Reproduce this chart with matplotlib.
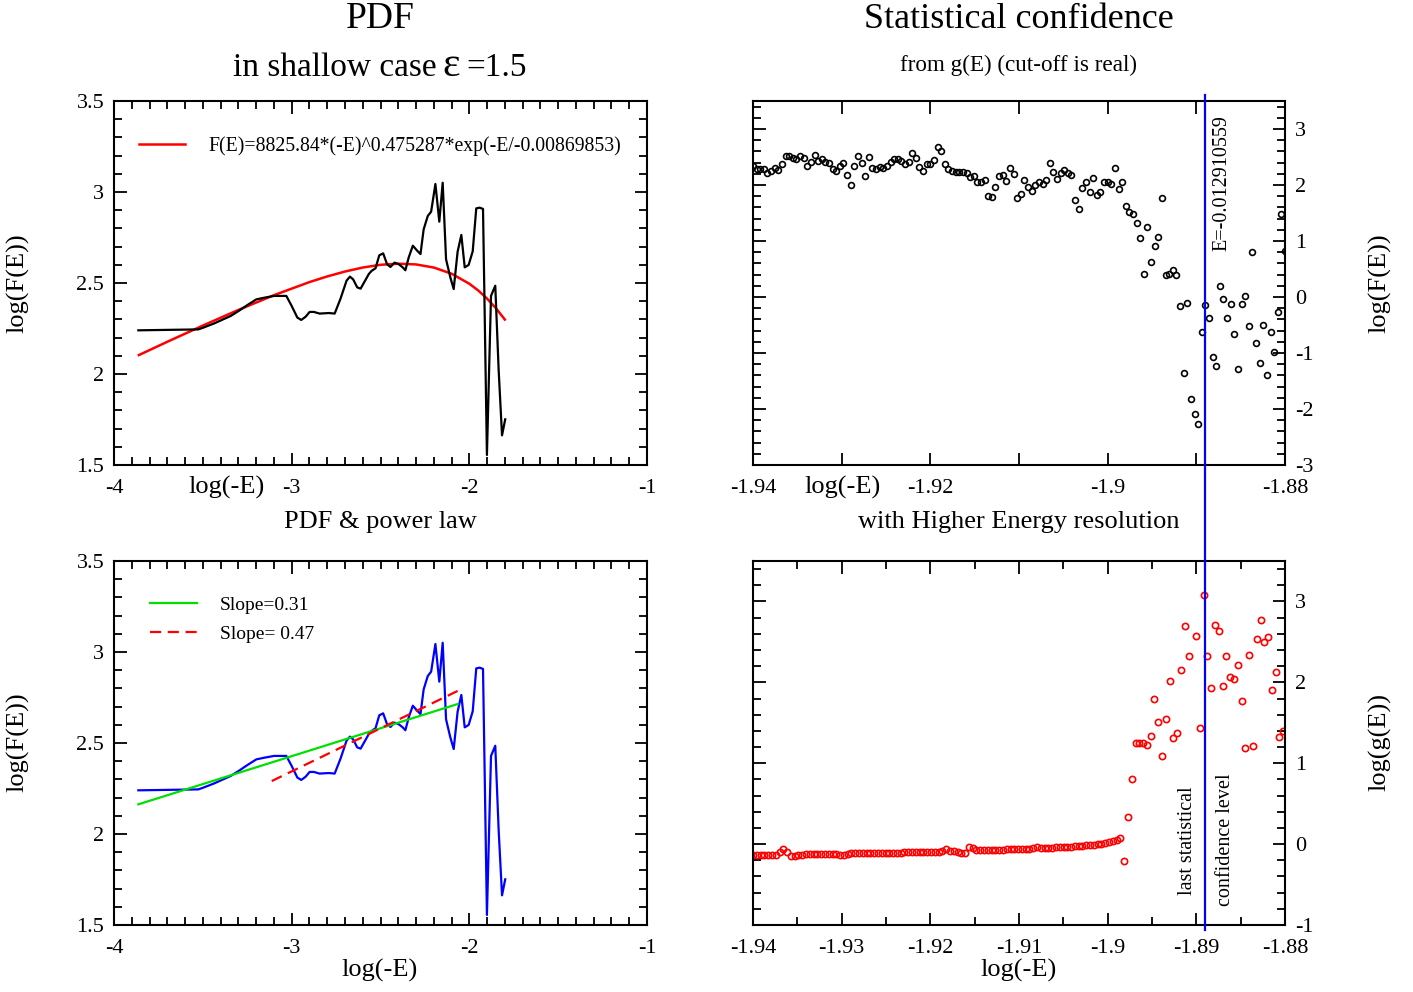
import numpy as np
import matplotlib
matplotlib.use("Agg")
import matplotlib.pyplot as plt
from matplotlib.ticker import MultipleLocator, FuncFormatter

plt.rcParams['font.family'] = ['Liberation Serif', 'DejaVu Serif']
plt.rcParams['axes.unicode_minus'] = False

W, H = 1413, 992

# PDF, log(-E) vs log(F(E)) -- same curve in both left panels
pdf_logE = [-3.863, -3.526, -3.502, -3.436, -3.343, -3.296, -3.249, -3.199, -3.155, -3.099,
            -3.030, -3.000, -2.968, -2.946, -2.921, -2.899, -2.875, -2.843, -2.790, -2.758,
            -2.725, -2.691, -2.672, -2.654, -2.631, -2.612, -2.590, -2.566, -2.551, -2.528,
            -2.507, -2.485, -2.463, -2.444, -2.421, -2.397, -2.375, -2.360, -2.341, -2.318,
            -2.294, -2.275, -2.257, -2.234, -2.215, -2.191, -2.169, -2.150, -2.131, -2.107,
            -2.088, -2.066, -2.045, -2.026, -2.004, -1.981, -1.961, -1.942, -1.923, -1.901,
            -1.878, -1.854, -1.835, -1.816, -1.798]
pdf_logF = [2.240, 2.245, 2.253, 2.278, 2.319, 2.348, 2.379, 2.410, 2.419, 2.429,
            2.429, 2.374, 2.310, 2.297, 2.315, 2.341, 2.341, 2.332, 2.335, 2.332,
            2.414, 2.513, 2.535, 2.520, 2.476, 2.469, 2.507, 2.549, 2.566, 2.581,
            2.652, 2.663, 2.603, 2.588, 2.612, 2.603, 2.586, 2.570, 2.641, 2.705,
            2.678, 2.659, 2.795, 2.868, 2.892, 3.044, 2.837, 3.051, 2.630, 2.531,
            2.467, 2.672, 2.764, 2.586, 2.599, 2.674, 2.910, 2.914, 2.907, 1.555,
            2.429, 2.485, 2.022, 1.663, 1.751]

# fitted curve (red), sampled
fit_label = "F(E)=8825.84*(-E)^0.475287*exp(-E/-0.00869853)"
fit_logE = [-3.86, -3.7, -3.5, -3.3, -3.1, -2.9, -2.8, -2.7, -2.6, -2.5, -2.4, -2.3,
            -2.2, -2.1, -2.0, -1.95, -1.9, -1.85, -1.8]
fit_logF = [2.104, 2.177, 2.266, 2.352, 2.433, 2.505, 2.536, 2.563, 2.585, 2.600, 2.606, 2.602,
            2.585, 2.551, 2.496, 2.459, 2.414, 2.361, 2.299]

# power law guides
slope1_logE = [-3.863, -2.066]
slope1_logF = [2.163, 2.714]
slope2_logE = [-3.112, -2.066]
slope2_logF = [2.291, 2.786]

# higher energy resolution window
hr_start, hr_stop = -1.94, -1.88
hr_logF = [2.344, 2.285, 2.285, 2.285, 2.208, 2.243, 2.297, 2.273, 2.374, 2.516,
           2.510, 2.481, 2.469, 2.522, 2.481, 2.332, 2.404, 2.540, 2.433, 2.457,
           2.415, 2.386, 2.285, 2.255, 2.344, 2.386, 2.184, 2.006, 2.344, 2.522,
           2.386, 2.166, 2.493, 2.303, 2.279, 2.315, 2.303, 2.344, 2.404, 2.457,
           2.463, 2.433, 2.374, 2.415, 2.570, 2.475, 2.315, 2.255, 2.374, 2.374,
           2.445, 2.682, 2.605, 2.374, 2.285, 2.255, 2.226, 2.237, 2.237, 2.220,
           2.136, 2.166, 2.053, 2.053, 2.089, 1.804, 1.792, 1.970, 2.154, 2.184,
           2.077, 2.297, 2.196, 1.763, 1.840, 2.089, 1.958, 1.887, 2.000, 2.059,
           2.018, 2.089, 2.386, 2.226, 2.101, 2.208, 2.273, 2.214, 2.184, 1.733,
           1.573, 1.947, 2.059, 1.881, 2.119, 1.816, 1.869, 2.059, 2.059, 2.018,
           2.303, 1.923, 2.047, 1.632, 1.525, 1.484, 1.318, 1.045, 0.409, 1.252,
           0.617, 0.914, 1.074, 1.769, 0.398, 0.415, 0.475, 0.386, -0.166, -1.359,
           -0.107, -1.828, -2.095, -2.273, -0.629, -0.142, -0.368, -1.068, -1.234, 0.202,
           -0.030, -0.380, -0.119, -0.665, -1.294, -0.119, 0.018, -0.510, 0.795, -0.819,
           -1.181, -0.504, -1.395, -0.617, -0.985, -0.261, 1.484, 0.813]

g_stop = -1.8802
hr_logg = [-0.140, -0.140, -0.138, -0.136, -0.136, -0.136, -0.130, -0.095, -0.058, -0.100,
           -0.144, -0.142, -0.130, -0.130, -0.127, -0.125, -0.123, -0.123, -0.123, -0.123,
           -0.123, -0.123, -0.125, -0.129, -0.131, -0.118, -0.115, -0.111, -0.107, -0.107,
           -0.105, -0.107, -0.107, -0.111, -0.111, -0.111, -0.109, -0.109, -0.107, -0.105,
           -0.103, -0.103, -0.103, -0.103, -0.103, -0.103, -0.103, -0.103, -0.101, -0.099,
           -0.082, -0.058, -0.082, -0.086, -0.092, -0.112, -0.112, -0.035, -0.042, -0.074,
           -0.076, -0.076, -0.074, -0.074, -0.072, -0.070, -0.068, -0.066, -0.066, -0.064,
           -0.062, -0.060, -0.058, -0.056, -0.050, -0.030, -0.045, -0.045, -0.045, -0.043,
           -0.041, -0.039, -0.037, -0.035, -0.031, -0.027, -0.024, -0.020, -0.016, -0.012,
           -0.008, -0.004, 0.000, 0.010, 0.025, 0.040, 0.055, 0.078,
           -0.205, 0.329, 0.801, 1.248, 1.248, 1.244, 1.228, 1.335, 1.791, 1.507,
           1.092, 1.552, 2.021, 1.306, 1.368, 2.152, 2.702, 2.329, np.nan, 2.567,
           1.437, 3.084, 2.329, 1.930, 2.706, 2.632, 1.955, 2.324, 2.062, 2.041,
           2.218, 1.774, 1.187, 2.341, 1.207, 2.530, 2.772, 2.497, 2.559, 1.901,
           2.127, 1.322, 1.396]

cutoff_E = -0.012910559


def fx(px):
    return px / W


def fy(py):
    return 1 - py / H


def box(l, t, r, b):
    return [fx(l), fy(b), (r - l) / W, (b - t) / H]


def num_fmt(v, pos):
    return '%g' % (round(v, 6) + 0)


def style(ax, right_labels=False):
    for s in ax.spines.values():
        s.set_linewidth(1.5)
    ax.tick_params(which='both', direction='in', top=True, right=True,
                   width=1.3, labelsize=16, pad=7)
    ax.tick_params(axis='x', which='both', pad=10)
    ax.tick_params(which='major', length=9)
    ax.tick_params(which='minor', length=6)
    if right_labels:
        ax.tick_params(labelleft=False, labelright=True)
    ax.xaxis.set_major_formatter(FuncFormatter(num_fmt))
    ax.yaxis.set_major_formatter(FuncFormatter(num_fmt))


fig = plt.figure(figsize=(W / 100, H / 100), dpi=100)

ax_tl = fig.add_axes(box(114, 101, 647, 465))
ax_tr = fig.add_axes(box(753, 101, 1285, 465))
ax_bl = fig.add_axes(box(114, 561, 647, 925))
ax_br = fig.add_axes(box(753, 561, 1285, 925))

# left panels
for ax in (ax_tl, ax_bl):
    ax.set_xlim(-4, -1)
    ax.set_ylim(1.5, 3.5)
    ax.xaxis.set_major_locator(MultipleLocator(1))
    ax.xaxis.set_minor_locator(MultipleLocator(0.1))
    ax.yaxis.set_major_locator(MultipleLocator(0.5))
    ax.yaxis.set_minor_locator(MultipleLocator(0.1))
    style(ax)

ax_tl.plot(fit_logE, fit_logF, color='#ff0000', lw=1.8, label=fit_label)
ax_tl.plot(pdf_logE, pdf_logF, color='black', lw=1.6)
ax_tl.legend(loc='upper left', bbox_to_anchor=(0.047, 0.903), frameon=False,
             borderaxespad=0, borderpad=0, handlelength=2.35, handletextpad=1.15,
             fontsize=14.2)

ax_bl.plot(pdf_logE, pdf_logF, color='#0000ff', lw=1.6)
ax_bl.plot(slope1_logE, slope1_logF, color='#00e000', lw=1.6, label='Slope=0.31')
ax_bl.plot(slope2_logE, slope2_logF, color='#ff0000', lw=1.6, dashes=(5, 3),
           label='Slope= 0.47')
ax_bl.legend(loc='upper left', bbox_to_anchor=(0.0675, 0.904), frameon=False,
             borderaxespad=0, borderpad=0, handlelength=2.4, handletextpad=1.2,
             labelspacing=0.62, fontsize=14)

# right panels
x_tr = np.linspace(hr_start, hr_stop, len(hr_logF))
x_br = np.linspace(hr_start, g_stop, len(hr_logg))

ax_tr.set_xlim(hr_start, hr_stop)
ax_tr.set_ylim(-3, 3.5)
ax_tr.xaxis.set_major_locator(MultipleLocator(0.02))
ax_tr.xaxis.set_minor_locator(MultipleLocator(0.01))
ax_tr.yaxis.set_major_locator(MultipleLocator(1))
ax_tr.yaxis.set_minor_locator(MultipleLocator(0.2))
style(ax_tr, right_labels=True)
ax_tr.tick_params(axis='x', which='minor', length=9)
ax_tr.plot(x_tr, hr_logF, 'o', mfc='none', mec='black', ms=4.2, mew=1.2)

ax_br.set_xlim(hr_start, hr_stop)
ax_br.set_ylim(-1, 3.5)
ax_br.xaxis.set_major_locator(MultipleLocator(0.01))
ax_br.xaxis.set_minor_locator(MultipleLocator(0.005))
ax_br.yaxis.set_major_locator(MultipleLocator(1))
ax_br.yaxis.set_minor_locator(MultipleLocator(0.2))
style(ax_br, right_labels=True)
ax_br.plot(x_br, hr_logg, 'o', mfc='none', mec='#ff0000', ms=4.5, mew=1.2)

# cut-off line through both right panels
cut_x = np.log10(-cutoff_E)
ax_br.axvline(cut_x, ymin=-5 / 364, ymax=(925 - 95) / 364, color='#0000ff',
              lw=1.6, clip_on=False, zorder=5)

# titles and labels
fig.text(fx(380), fy(19), 'PDF', ha='center', va='center', fontsize=27)
fig.text(fx(233), fy(76), 'in shallow case', ha='left', va='baseline', fontsize=24)
fig.text(fx(442), fy(76), 'ε', ha='left', va='baseline', fontsize=30)
fig.text(fx(466), fy(76), '=1.5', ha='left', va='baseline', fontsize=24)
fig.text(fx(1019), fy(19), 'Statistical confidence', ha='center', va='center', fontsize=26)
fig.text(fx(1019), fy(65), 'from g(E) (cut-off is real)', ha='center', va='center',
         fontsize=16.7)

fig.text(fx(227), fy(487), 'log(-E)', ha='center', va='center', fontsize=19)
fig.text(fx(843), fy(487), 'log(-E)', ha='center', va='center', fontsize=19)
fig.text(fx(380), fy(522), 'PDF & power law', ha='center', va='center', fontsize=19)
fig.text(fx(1019), fy(522), 'with Higher Energy resolution', ha='center', va='center',
         fontsize=19)
fig.text(fx(380), fy(970), 'log(-E)', ha='center', va='center', fontsize=19)
fig.text(fx(1019), fy(970), 'log(-E)', ha='center', va='center', fontsize=19)

fig.text(fx(18), fy(283), 'log(F(E))', rotation=90, ha='center', va='center', fontsize=19)
fig.text(fx(18), fy(742), 'log(F(E))', rotation=90, ha='center', va='center', fontsize=19)
fig.text(fx(1380), fy(283), 'log(F(E))', rotation=90, ha='center', va='center', fontsize=19)
fig.text(fx(1380), fy(742), 'log(g(E))', rotation=90, ha='center', va='center', fontsize=19)

fig.text(fx(1222), fy(183), 'E=-0.012910559', rotation=90, ha='center', va='center',
         fontsize=14.5)
fig.text(fx(1188), fy(841), 'last statistical', rotation=90, ha='center', va='center',
         fontsize=14.5)
fig.text(fx(1226), fy(840), 'confidence level', rotation=90, ha='center', va='center',
         fontsize=14.5)

fig.savefig('out.png', dpi=100, facecolor='white')
